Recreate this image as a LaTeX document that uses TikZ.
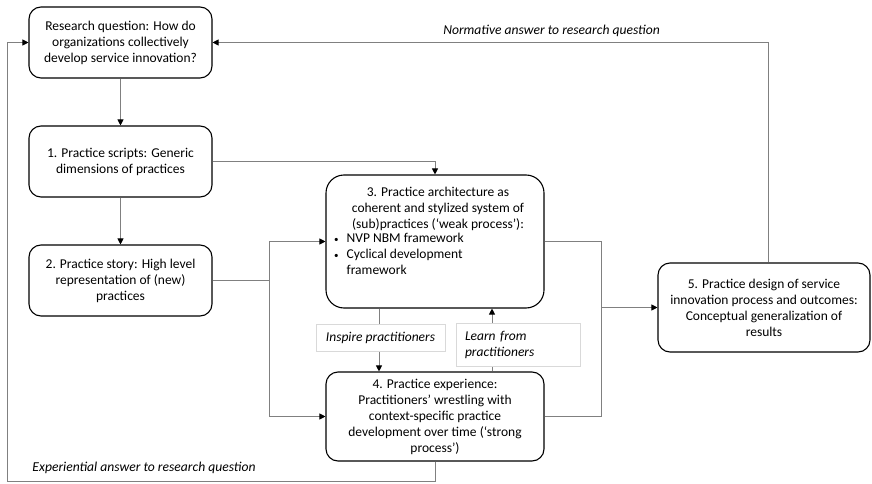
\documentclass[tikz,border=0pt]{standalone}
\usepackage{fontspec}
\setmainfont{Carlito}
\usetikzlibrary{arrows.meta}
\definecolor{linegray}{RGB}{128,128,128}
\definecolor{lblgray}{RGB}{217,217,217}
\begin{document}
\begin{tikzpicture}[x=1pt,y=-1pt,
 box/.style={draw=black, line width=1.1pt, rounded corners=12pt, fill=white, align=center,
   font=\fontsize{13.5}{16}\selectfont, inner sep=0pt},
 txt/.style={font=\fontsize{13.5}{16}\selectfont, inner sep=0pt},
 conn/.style={draw=linegray, line width=0.9pt, -{Triangle[length=6pt,width=6pt,color=black]}},
 plain/.style={draw=linegray, line width=0.9pt},
 lbl/.style={font=\fontsize{13.6}{16}\selectfont\itshape, inner sep=0pt},
 lblbox/.style={draw=lblgray, fill=white, line width=0.8pt, font=\fontsize{13.5}{16}\selectfont\itshape, inner sep=0pt}]
\useasboundingbox (0,0) rectangle (872,484);

\node[box, minimum width=183pt, minimum height=71pt] (b0) at (120.5,42.5)
  {Research question: How do\\organizations collectively\\develop service innovation?};
\node[box, minimum width=183pt, minimum height=71pt] (b1) at (120.5,161.5)
  {1. Practice scripts: Generic\\dimensions of practices};
\node[box, minimum width=183pt, minimum height=71pt] (b2) at (120.5,280.5)
  {2. Practice story: High level\\representation of (new)\\practices};
\node[box, rounded corners=18pt, minimum width=218pt, minimum height=133pt] (b3) at (435,241.5) {};
\node[txt, align=center] (b3t) at (438,209)
  {3. Practice architecture as\\coherent and stylized system of\\(sub)practices (‘weak process’):};
\node[txt, anchor=north west] (b3l) at (334,231.5)
  {\begin{tabular}{@{}l@{\hspace{8pt}}l@{}}
   {\small •}& NVP NBM framework\\
   {\small •}& Cyclical development\\
    & framework
   \end{tabular}};
\node[box, minimum width=218pt, minimum height=89pt] (b4) at (435,416.5)
  {4. Practice experience:\\Practitioners’ wrestling with\\context-specific practice\\development over time (‘strong\\process’)};
\node[box, minimum width=212pt, minimum height=89pt] (b5) at (764,307.5)
  {5. Practice design of service\\innovation process and outcomes:\\Conceptual generalization of\\results};

\draw[conn] (b0) -- (b1);
\draw[conn] (b1) -- (b2);
\draw[conn] (b1.east) -| (b3.north);
\coordinate (j2) at (269,280.5);
\draw[plain] (b2.east) -- (j2);
\draw[conn] (j2) |- (b3.west);
\draw[conn] (j2) |- (b4.west);
\draw[conn] ([xshift=-56pt]b3.south) -- ([xshift=-56pt]b4.north);
\draw[conn] ([xshift=57pt]b4.north) -- ([xshift=57pt]b3.south);
\coordinate (j3) at (601,307.5);
\draw[plain] (b3.east) -| (j3);
\draw[plain] (b4.east) -| (j3);
\draw[conn] (j3) -- (b5.west);
\draw[conn] ([xshift=4pt]b5.north) |- (b0.east);
\coordinate (c1) at (7,481);
\draw[conn] (b4.south) |- (c1) |- (b0.west);

\node[lblbox, minimum width=129pt, minimum height=27pt] (inspire) at (380.5,337.5) {Inspire practitioners};
\node[lblbox, align=left, text width=106pt, inner xsep=9pt, minimum height=43pt] (learn) at (518,344.5)
  {Learn from\\practitioners};
\node[lbl] (norm) at (551.5,31) {Normative answer to research question};
\node[lbl] (exp) at (144,468) {Experiential answer to research question};
\end{tikzpicture}
\end{document}
